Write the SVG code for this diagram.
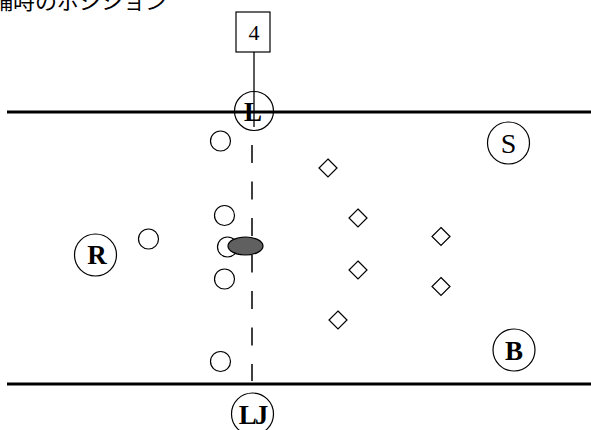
<svg xmlns="http://www.w3.org/2000/svg" width="591" height="430" viewBox="0 0 591 430">
<style>
.pl{fill:none;stroke:#000;stroke-width:1.2}
.big{fill:none;stroke:#000;stroke-width:1.2}
.dm{fill:none;stroke:#000;stroke-width:1.2}
.lbl{font-family:"Liberation Serif","DejaVu Serif",serif;font-size:27px;font-weight:bold;text-anchor:middle;fill:#000}
.field{stroke:#000;stroke-width:3}
.title{font-family:"Noto Sans CJK JP","Noto Sans",sans-serif;font-size:22px;fill:#000}
</style>
<defs>
<path id="dia" d="M0,-9 L9,0 L0,9 L-9,0 Z" class="dm"/>
</defs>
<rect width="591" height="430" fill="#fff"/>
<text class="title" x="-31" y="9">守備時のポジション</text>
<g id="field">
<line class="field" x1="7" y1="112" x2="591" y2="112"/>
<line class="field" x1="7" y1="384" x2="591" y2="384"/>
<line x1="252" y1="145" x2="252" y2="381" stroke="#000" stroke-width="1.5" stroke-dasharray="18 18.5"/>
</g>
<g id="connectors">
<line x1="254" y1="52" x2="254" y2="127" stroke="#000" stroke-width="1.3"/>
</g>
<g id="box4">
<rect x="236" y="12" width="34" height="40" fill="#fff" stroke="#000" stroke-width="1.2"/>
<text x="254" y="40" font-family="Liberation Serif, serif" font-size="22" text-anchor="middle">4</text>
</g>
<g id="nodeL"><circle class="big" cx="254" cy="111" r="19.5"/><text class="lbl" x="253" y="121">L</text></g>
<g id="nodeS"><circle class="big" cx="508.5" cy="143" r="21"/><text class="lbl" x="508.5" y="153" style="font-weight:normal;font-size:28px">S</text></g>
<g id="nodeR"><circle class="big" cx="95.5" cy="255" r="21"/><text class="lbl" x="97" y="264">R</text></g>
<g id="nodeB"><circle class="big" cx="514" cy="350" r="21"/><text class="lbl" x="514" y="360">B</text></g>
<g id="nodeLJ"><circle class="big" cx="252.5" cy="414" r="21"/><text class="lbl" x="252.5" y="424" style="letter-spacing:-2px">LJ</text></g>
<g id="players">
<circle class="pl" cx="220.5" cy="141" r="10"/>
<circle class="pl" cx="224.5" cy="215.5" r="10"/>
<circle class="pl" cx="148.5" cy="239" r="10"/>
<circle class="pl" cx="227.5" cy="247" r="10"/>
<circle class="pl" cx="224.5" cy="279" r="10"/>
<circle class="pl" cx="220.5" cy="361.5" r="10"/>
</g>
<g id="ball"><ellipse cx="245.5" cy="246" rx="17.5" ry="9" fill="#606060" stroke="#000" stroke-width="1.2"/></g>
<g id="opponents">
<use href="#dia" x="328" y="168"/>
<use href="#dia" x="358" y="218"/>
<use href="#dia" x="441" y="236.5"/>
<use href="#dia" x="358" y="270"/>
<use href="#dia" x="441" y="286.5"/>
<use href="#dia" x="338" y="320"/>
</g>
</svg>
